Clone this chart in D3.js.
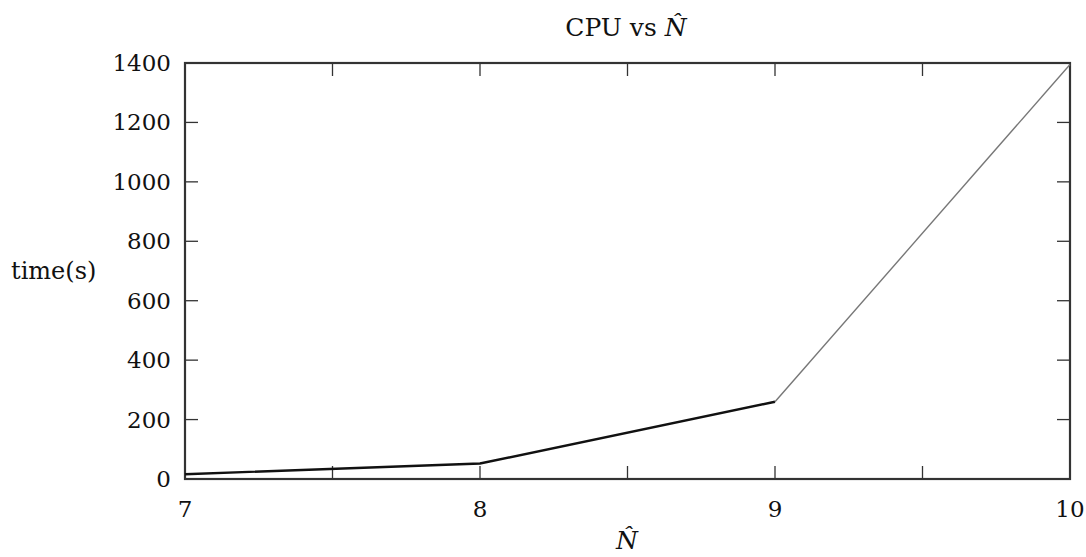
<!DOCTYPE html>
<html>
<head>
<meta charset="utf-8">
<script src="https://cdn.jsdelivr.net/npm/d3@7"></script>
<style>
  body { margin: 0; background: #fff; }
  svg text { font-family: "DejaVu Serif", "Liberation Serif", serif; fill: #111; }
</style>
</head>
<body>
<svg id="chart" width="1086" height="557"></svg>
<script>
// Data
const nValues = [7, 8, 9, 10];
const cpuTimes = [16, 52, 260, 1395];
const xTicks = [7, 7.5, 8, 8.5, 9, 9.5, 10];
const xTickLabels = [7, 8, 9, 10];
const yTicks = [0, 200, 400, 600, 800, 1000, 1200, 1400];

const margin = { top: 63, right: 16, bottom: 78, left: 185 };
const width = 1086, height = 557;
const svg = d3.select('#chart');

const x = d3.scaleLinear().domain([7, 10]).range([margin.left, width - margin.right]);
const y = d3.scaleLinear().domain([0, 1400]).range([height - margin.bottom, margin.top]);

const tickLen = 13;
const ticks = svg.append('g').attr('stroke', '#333').attr('stroke-width', 1.3);

// x ticks, bottom and top (mirrored inward)
xTicks.forEach(v => {
    ticks.append('line').attr('x1', x(v)).attr('x2', x(v))
        .attr('y1', y(0)).attr('y2', y(0) - tickLen);
    ticks.append('line').attr('x1', x(v)).attr('x2', x(v))
        .attr('y1', y(1400)).attr('y2', y(1400) + tickLen);
});
// y ticks, left and right
yTicks.forEach(v => {
    ticks.append('line').attr('x1', x(7)).attr('x2', x(7) + tickLen)
        .attr('y1', y(v)).attr('y2', y(v));
    ticks.append('line').attr('x1', x(10)).attr('x2', x(10) - tickLen)
        .attr('y1', y(v)).attr('y2', y(v));
});

// frame
svg.append('rect')
    .attr('x', x(7)).attr('y', y(1400))
    .attr('width', x(10) - x(7)).attr('height', y(0) - y(1400))
    .attr('fill', 'none').attr('stroke', '#333').attr('stroke-width', 2.2);

// tick labels
svg.append('g').selectAll('text').data(xTickLabels).join('text')
    .attr('x', d => x(d)).attr('y', y(0) + 38)
    .attr('text-anchor', 'middle').attr('font-size', 23)
    .text(d => d);
svg.append('g').selectAll('text').data(yTicks).join('text')
    .attr('x', x(7) - 14).attr('y', d => y(d) + 8)
    .attr('text-anchor', 'end').attr('font-size', 23)
    .text(d => d);

// series: first part heavy black, last segment thin grey
const line = d3.line().x(d => x(d[0])).y(d => y(d[1]));
const pts = nValues.map((n, i) => [n, cpuTimes[i]]);
svg.append('path').datum(pts.slice(0, 3)).attr('d', line)
    .attr('fill', 'none').attr('stroke', '#111').attr('stroke-width', 2.4);
svg.append('path').datum(pts.slice(2)).attr('d', line)
    .attr('fill', 'none').attr('stroke', '#777').attr('stroke-width', 1.4);

// title
const title = svg.append('text').attr('x', 626).attr('y', 36)
    .attr('text-anchor', 'middle').attr('font-size', 25);
title.append('tspan').text('CPU vs ');
title.append('tspan').attr('font-style', 'italic').text('N\u0302');

// axis labels
svg.append('text').attr('x', 11).attr('y', 279)
    .attr('font-size', 24).text('time(s)');
svg.append('text').attr('x', 627).attr('y', 549)
    .attr('text-anchor', 'middle').attr('font-size', 25)
    .attr('font-style', 'italic').text('N\u0302');
</script>
</body>
</html>
